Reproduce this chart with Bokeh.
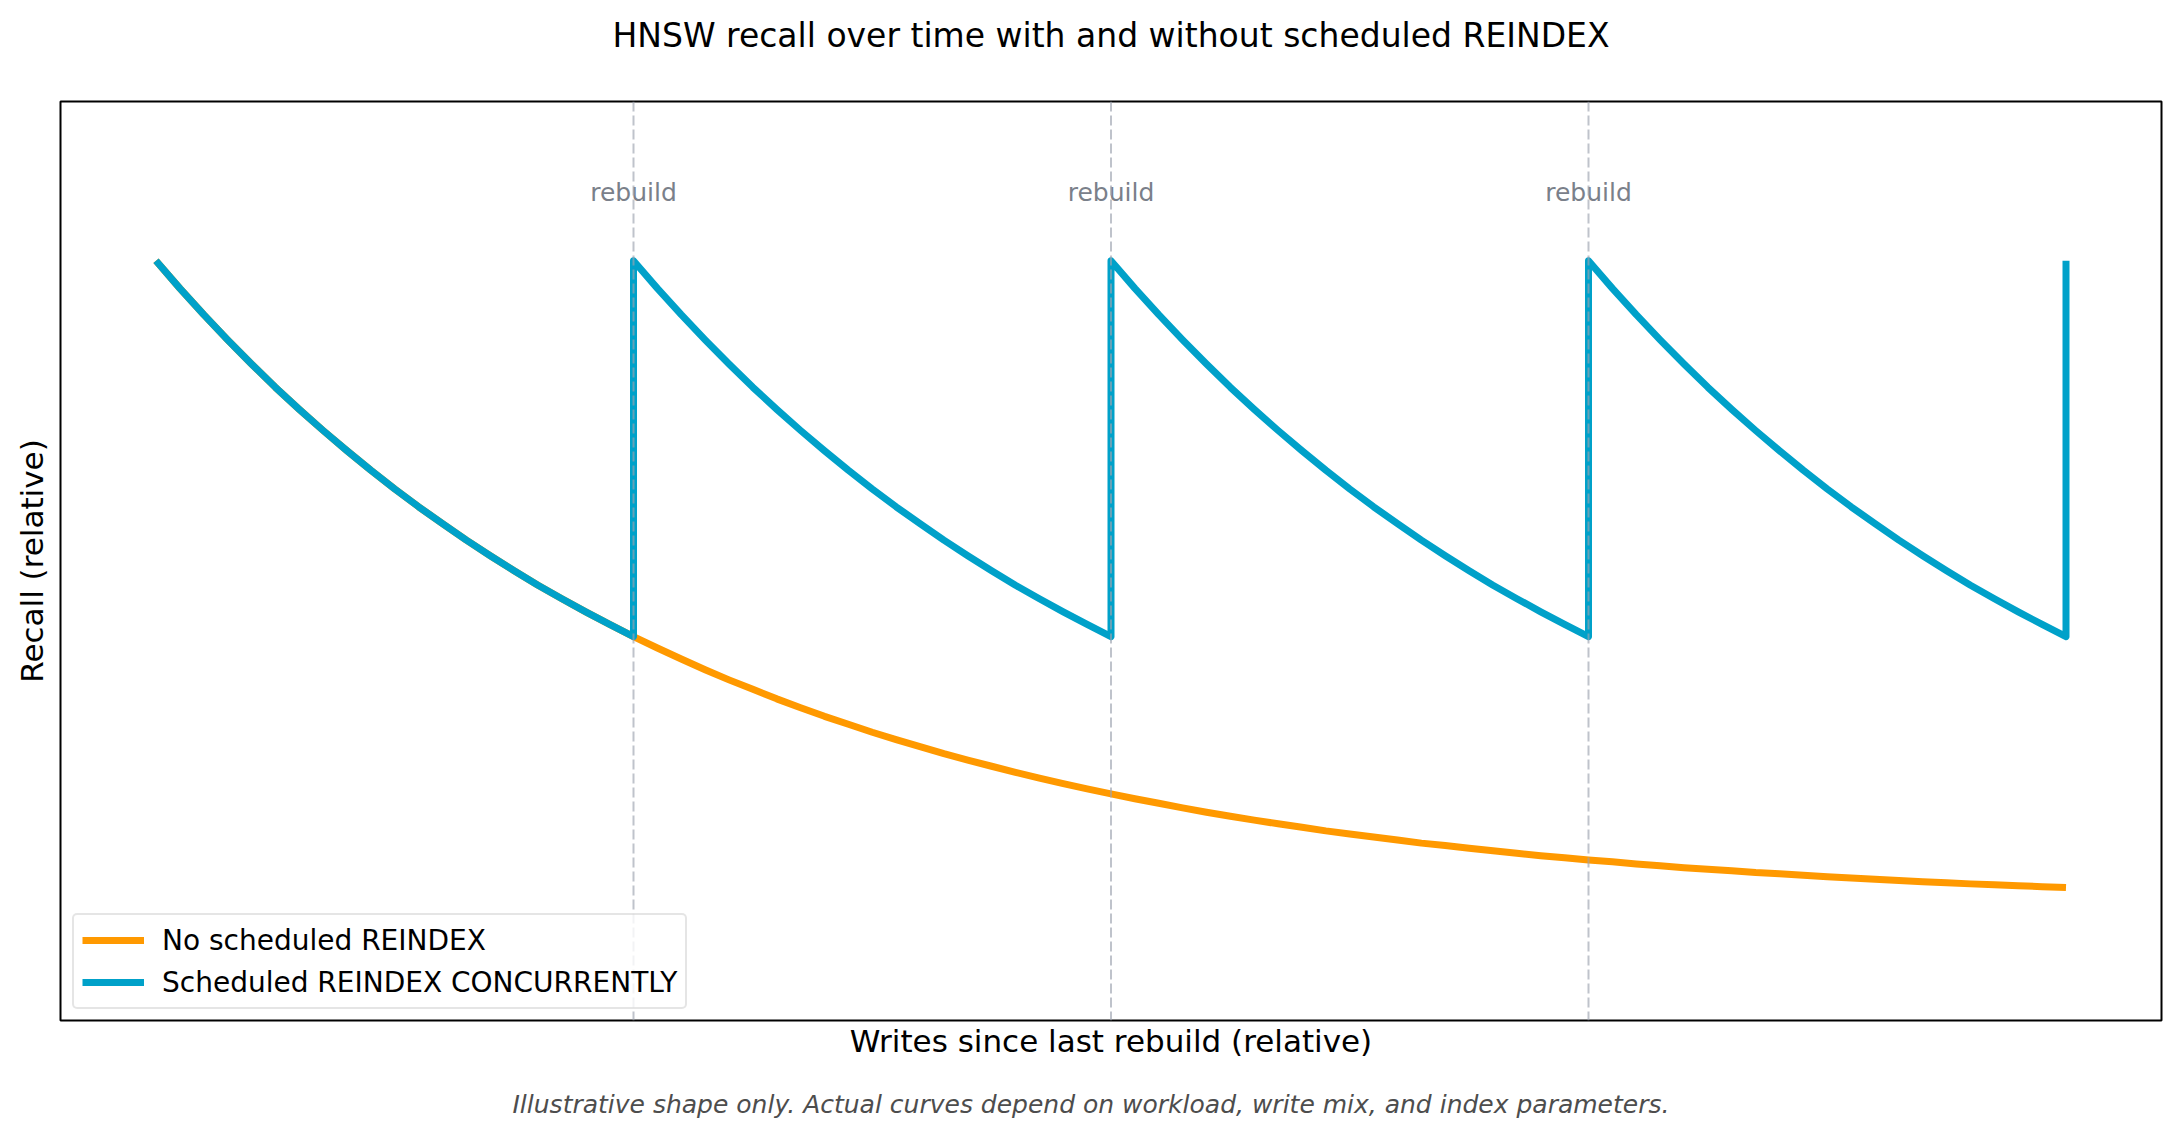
import math
from bokeh.plotting import figure
from bokeh.models import Range1d, Title, Legend, LegendItem, Span
from bokeh.core.properties import value
from bokeh.embed import file_html
from bokeh.resources import INLINE

# ---- data ----
no_reindex_x = [0.00, 0.05, 0.10, 0.15, 0.20, 0.25, 0.30, 0.35, 0.40, 0.45,
                0.50, 0.55, 0.60, 0.65, 0.70, 0.75, 0.80, 0.85, 0.90, 0.95,
                1.00, 1.05, 1.10, 1.15, 1.20, 1.25, 1.30, 1.35, 1.40, 1.45,
                1.50, 1.55, 1.60, 1.65, 1.70, 1.75, 1.80, 1.85, 1.90, 1.95,
                2.00, 2.05, 2.10, 2.15, 2.20, 2.25, 2.30, 2.35, 2.40, 2.45,
                2.50, 2.55, 2.60, 2.65, 2.70, 2.75, 2.80, 2.85, 2.90, 2.95,
                3.00, 3.05, 3.10, 3.15, 3.20, 3.25, 3.30, 3.35, 3.40, 3.45,
                3.50, 3.55, 3.60, 3.65, 3.70, 3.75, 3.80, 3.85, 3.90, 3.95,
                4.00]
no_reindex_recall = [0.9480, 0.9390, 0.9304, 0.9222, 0.9143, 0.9067, 0.8995, 0.8926, 0.8860, 0.8796,
                     0.8735, 0.8677, 0.8622, 0.8568, 0.8517, 0.8468, 0.8421, 0.8377, 0.8334, 0.8293,
                     0.8253, 0.8216, 0.8180, 0.8145, 0.8112, 0.8081, 0.8050, 0.8021, 0.7993, 0.7967,
                     0.7941, 0.7917, 0.7894, 0.7871, 0.7850, 0.7830, 0.7810, 0.7791, 0.7773, 0.7756,
                     0.7740, 0.7724, 0.7709, 0.7694, 0.7680, 0.7667, 0.7654, 0.7642, 0.7631, 0.7619,
                     0.7609, 0.7599, 0.7589, 0.7579, 0.7571, 0.7562, 0.7554, 0.7546, 0.7538, 0.7531,
                     0.7524, 0.7518, 0.7511, 0.7505, 0.7499, 0.7494, 0.7489, 0.7483, 0.7479, 0.7474,
                     0.7469, 0.7465, 0.7461, 0.7457, 0.7453, 0.7450, 0.7446, 0.7443, 0.7440, 0.7437,
                     0.7434]

segment_offsets = [0.00, 0.05, 0.10, 0.15, 0.20, 0.25, 0.30, 0.35, 0.40, 0.45,
                   0.50, 0.55, 0.60, 0.65, 0.70, 0.75, 0.80, 0.85, 0.90, 0.95, 1.00]
segment_recall = [0.9480, 0.9390, 0.9304, 0.9222, 0.9143, 0.9067, 0.8995, 0.8926, 0.8860, 0.8796,
                  0.8735, 0.8677, 0.8622, 0.8568, 0.8517, 0.8468, 0.8421, 0.8377, 0.8334, 0.8293,
                  0.8253]
segment_starts = [0, 1, 2, 3]
final_rebuild_x = 4.0

rebuild_points = [1, 2, 3]
rebuild_labels = ["rebuild", "rebuild", "rebuild"]

series_names = ["No scheduled REINDEX", "Scheduled REINDEX CONCURRENTLY"]
series_colors = ["#ff9900", "#00a1c9"]

title_text = "HNSW recall over time with and without scheduled REINDEX"
x_label = "Writes since last rebuild (relative)"
y_label = "Recall (relative)"
footnote = "Illustrative shape only. Actual curves depend on workload, write mix, and index parameters."

# build scheduled series from the repeated segment
sched_x, sched_y = [], []
for s in segment_starts:
    sched_x += [s + o for o in segment_offsets]
    sched_y += list(segment_recall)
sched_x.append(final_rebuild_x)
sched_y.append(segment_recall[0])

FONT = "DejaVu Sans"

p = figure(width=2179, height=1137, output_backend="svg", toolbar_location=None,
           x_range=Range1d(-0.2, 4.2), y_range=Range1d(0.7, 1.0),
           x_axis_location=None, y_axis_location=None,
           min_border_left=60, min_border_right=18, min_border_top=101, min_border_bottom=117)
p.grid.visible = False
p.outline_line_color = "black"
p.outline_line_width = 2
p.background_fill_color = "white"
p.border_fill_color = "white"

r_orange = p.line(no_reindex_x, no_reindex_recall, line_color=series_colors[0], line_width=7,
                  line_join="round")
r_blue = p.line(sched_x, sched_y, line_color=series_colors[1], line_width=7, line_join="round")

p.text(x=rebuild_points, y=[0.9703] * len(rebuild_points), text=rebuild_labels,
       text_font=value(FONT), text_font_size="25px", text_color="#7a808a",
       text_align="center", text_baseline="middle")

for xloc in rebuild_points:
    p.add_layout(Span(location=xloc, dimension="height", line_color="#9ca3af",
                      line_alpha=0.65, line_width=2, line_dash="10 4"))

legend = Legend(items=[LegendItem(label=series_names[0], renderers=[r_orange]),
                       LegendItem(label=series_names[1], renderers=[r_blue])],
                location=(12, 11), label_text_font=FONT, label_text_font_size="28px",
                label_text_color="black",
                glyph_width=62, glyph_height=34, label_height=34, label_standoff=18,
                spacing=8, padding=8, margin=0,
                border_line_color="#cccccc", border_line_width=2,
                background_fill_alpha=0.8, border_radius=5)
p.add_layout(legend)

# above: spacer nearest the frame, then the title
p.add_layout(Title(text=" ", text_font=FONT, text_font_size="2px", standoff=43), "above")
p.add_layout(Title(text=title_text, align="center", text_font=FONT, text_font_size="33px",
                   text_font_style="normal", text_color="black", standoff=0), "above")

p.add_layout(Title(text=x_label, align="center", text_font=FONT, text_font_size="31px",
                   text_font_style="normal", text_color="black", standoff=0), "below")
p.add_layout(Title(text="\n" + footnote, align="left", offset=452, text_font=FONT,
                   text_font_size="25px", text_font_style="italic", text_color="#4d4d4d",
                   standoff=0), "below")
p.add_layout(Title(text=y_label, align="center", text_font=FONT, text_font_size="31px",
                   text_font_style="normal", text_color="black", standoff=22), "left")

open("out.html", "w").write(file_html(p, INLINE))
